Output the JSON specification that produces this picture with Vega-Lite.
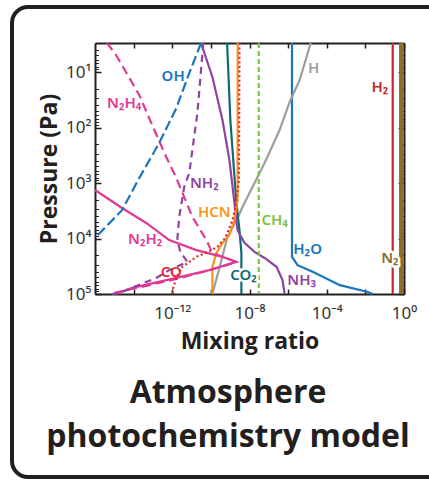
{
  "$schema": "https://vega.github.io/schema/vega-lite/v6.json",
  "width": 432,
  "height": 470,
  "autosize": "none",
  "padding": {"left": 12, "top": 7, "right": -15, "bottom": 3},
  "background": "white",
  "config": {
    "view": {"stroke": "#231f20", "strokeWidth": 4, "cornerRadius": 16, "fill": "white"},
    "axis": {"grid": false, "zindex": 1, "domainColor": "#231f20", "domainWidth": 2, "tickColor": "#231f20", "tickWidth": 1.5,
      "labelFont": "Noto Sans", "labelFontSize": 17, "labelColor": "#333333", "labelOverlap": false, "labelFlush": false, "labelBound": false,
      "titleFont": "Open Sans", "titleFontSize": 23, "titleFontWeight": "bold", "titleColor": "#231f20"}
  },
  "title": {
    "text": ["Atmosphere", "photochemistry model"],
    "orient": "bottom", "frame": "group", "anchor": "middle", "baseline": "alphabetic",
    "offset": -74, "font": "Open Sans", "fontSize": 32, "fontWeight": "bold", "color": "#231f20", "lineHeight": 44
  },
  "datasets": {
    "lines": [
      {"s":"H2O","x":1.585e-6,"p":3},{"s":"H2O","x":1.585e-6,"p":21400},{"s":"H2O","x":3.09e-6,"p":30200},{"s":"H2O","x":1.86e-5,"p":39800},{"s":"H2O","x":4.79e-4,"p":69200},{"s":"H2O","x":0.012,"p":91200},{"s":"H2O","x":0.0245,"p":100000},
      {"s":"H2","x":0.26,"p":3},{"s":"H2","x":0.26,"p":100000},
      {"s":"N2","x":0.724,"p":3},{"s":"N2","x":0.724,"p":100000},
      {"s":"CH4","x":3.02e-8,"p":3},{"s":"CH4","x":3.02e-8,"p":100000},
      {"s":"H","x":1.48e-5,"p":3},{"s":"H","x":3.98e-6,"p":13.9},{"s":"H","x":1.2e-6,"p":34.7},{"s":"H","x":3.63e-7,"p":111},{"s":"H","x":6.03e-8,"p":437},{"s":"H","x":5.5e-9,"p":2291},{"s":"H","x":2.09e-9,"p":4677},{"s":"H","x":7.24e-10,"p":9333},{"s":"H","x":3.55e-10,"p":24500},{"s":"H","x":1.2e-10,"p":100000},
      {"s":"CO2","x":6.92e-10,"p":3},{"s":"CO2","x":1.02e-9,"p":73.3},{"s":"CO2","x":2.09e-9,"p":2291},{"s":"CO2","x":3.02e-9,"p":7079},{"s":"CO2","x":3.8e-9,"p":18200},{"s":"CO2","x":3.8e-9,"p":100000},
      {"s":"NH3","x":3.09e-11,"p":3},{"s":"NH3","x":1.2e-10,"p":12.3},{"s":"NH3","x":3.98e-10,"p":73.3},{"s":"NH3","x":9.12e-10,"p":385},{"s":"NH3","x":1.66e-9,"p":2291},{"s":"NH3","x":2.4e-9,"p":7079},{"s":"NH3","x":5.5e-9,"p":12000},{"s":"NH3","x":1.82e-8,"p":17400},{"s":"NH3","x":6.03e-8,"p":22400},{"s":"NH3","x":2.51e-7,"p":32400},{"s":"NH3","x":5.13e-7,"p":56200},{"s":"NH3","x":6.61e-7,"p":100000},
      {"s":"HCN","x":2.45e-9,"p":3},{"s":"HCN","x":2.4e-9,"p":2042},{"s":"HCN","x":1.66e-9,"p":4677},{"s":"HCN","x":9.12e-10,"p":8710},{"s":"HCN","x":3.98e-10,"p":12000},{"s":"HCN","x":1.95e-10,"p":18200},{"s":"HCN","x":1.2e-10,"p":32400},{"s":"HCN","x":1.2e-10,"p":100000},
      {"s":"CO","x":3.02e-9,"p":3},{"s":"CO","x":2.85e-9,"p":891},{"s":"CO","x":1.86e-9,"p":2818},{"s":"CO","x":1.32e-9,"p":4677},{"s":"CO","x":5.62e-10,"p":9772},{"s":"CO","x":2.19e-10,"p":14100},{"s":"CO","x":8.32e-11,"p":17000},{"s":"CO","x":1.78e-11,"p":21400},{"s":"CO","x":3.31e-12,"p":32400},{"s":"CO","x":1.62e-12,"p":51300},{"s":"CO","x":1.12e-12,"p":77600},{"s":"CO","x":1e-12,"p":100000},
      {"s":"N2H2","x":1e-16,"p":1337},{"s":"N2H2","x":2.51e-15,"p":2818},{"s":"N2H2","x":4.47e-14,"p":5248},{"s":"N2H2","x":6.92e-13,"p":10700},{"s":"N2H2","x":1.78e-11,"p":16200},{"s":"N2H2","x":3.98e-10,"p":21400},{"s":"N2H2","x":2.09e-9,"p":26300},{"s":"N2H2","x":8.32e-11,"p":37200},{"s":"N2H2","x":1.62e-12,"p":51300},{"s":"N2H2","x":8.32e-15,"p":77600},{"s":"N2H2","x":1.23e-15,"p":100000},
      {"s":"N2H4","x":4.17e-16,"p":3},{"s":"N2H4","x":1.23e-15,"p":4.94},{"s":"N2H4","x":1.95e-14,"p":25.9},{"s":"N2H4","x":9.12e-14,"p":90.2},{"s":"N2H4","x":4.9e-13,"p":339},{"s":"N2H4","x":1.62e-12,"p":813},{"s":"N2H4","x":1.1e-11,"p":4074},{"s":"N2H4","x":5.89e-11,"p":10700},{"s":"N2H4","x":1.2e-10,"p":18200},{"s":"N2H4","x":2.09e-9,"p":26500},{"s":"N2H4","x":8.32e-11,"p":37500},{"s":"N2H4","x":1.62e-12,"p":53700},{"s":"N2H4","x":8.32e-15,"p":81300},{"s":"N2H4","x":5.37e-16,"p":100000},
      {"s":"NH2","x":4.07e-11,"p":3},{"s":"NH2","x":2e-11,"p":55},{"s":"NH2","x":7.59e-12,"p":661},{"s":"NH2","x":4.17e-12,"p":1175},{"s":"NH2","x":2.29e-12,"p":4074},{"s":"NH2","x":1.82e-12,"p":10700},{"s":"NH2","x":2.63e-12,"p":17400},{"s":"NH2","x":6.03e-12,"p":26300},{"s":"NH2","x":6.92e-13,"p":37200},{"s":"NH2","x":1.48e-13,"p":51300},{"s":"NH2","x":1.78e-15,"p":95500},{"s":"NH2","x":7.59e-16,"p":100000},
      {"s":"OH","x":1e-16,"p":9772},{"s":"OH","x":2.51e-15,"p":3090},{"s":"OH","x":1.95e-14,"p":813},{"s":"OH","x":2.09e-13,"p":191},{"s":"OH","x":1.62e-12,"p":44.7},{"s":"OH","x":7.59e-12,"p":10.5},{"s":"OH","x":3.09e-11,"p":3}
    ],
    "labels": [
      {"s":"OH","t":"OH","x":1.12e-12,"p":11.7},
      {"s":"N2H4","t":"N₂H₄","x":3.24e-15,"p":36.3},
      {"s":"NH2","t":"NH₂","x":4.57e-11,"p":1000},
      {"s":"HCN","t":"HCN","x":1.51e-10,"p":3311},
      {"s":"CH4","t":"CH₄","x":2.0e-7,"p":4677},
      {"s":"H","t":"H","x":2.09e-5,"p":8.5},
      {"s":"H2","t":"H₂","x":0.0562,"p":18.6},
      {"s":"H2O","t":"H₂O","x":1.02e-5,"p":15500},
      {"s":"N2","t":"N₂","x":0.186,"p":22400},
      {"s":"N2H2","t":"N₂H₂","x":3.98e-14,"p":10200},
      {"s":"CO","t":"CO","x":8.9e-13,"p":39800},
      {"s":"CO2","t":"CO₂","x":4.9e-9,"p":45700},
      {"s":"NH3","t":"NH₃","x":5.0e-6,"p":56200}
    ]
  },
  "resolve": {"axis": {"x": "independent", "y": "independent"}},
  "layer": [
    {
      "data": {"name": "lines"},
      "transform": [{"filter": {"field": "s", "oneOf": ["H2O","H2","H","CO2","NH3","HCN","N2H2"]}}],
      "mark": {"type": "line", "strokeWidth": 2.2},
      "encoding": {
        "x": {"field": "x", "type": "quantitative", "scale": {"type": "log", "domain": [1e-16, 1], "range": [83, 392], "nice": false},
          "axis": {"orient": "bottom", "offset": -183, "values": [1e-14,1e-12,1e-10,1e-8,1e-6,1e-4,1e-2,1], "tickSize": -5, "labelPadding": 16,
            "labelExpr": "round(log(datum.value)/LN10) == -12 ? '10⁻¹²' : round(log(datum.value)/LN10) == -8 ? '10⁻⁸' : round(log(datum.value)/LN10) == -4 ? '10⁻⁴' : round(log(datum.value)/LN10) == 0 ? '10⁰' : ''",
            "title": "Mixing ratio", "titlePadding": 9}},
        "y": {"field": "p", "type": "quantitative", "scale": {"type": "log", "domain": [3, 100000], "range": [36, 287], "nice": false},
          "axis": {"orient": "left", "offset": -83, "values": [10,100,1000,10000,100000], "tickSize": -6, "labelPadding": 10,
            "labelExpr": "['10⁰','10¹','10²','10³','10⁴','10⁵'][round(log(datum.value)/LN10)]",
            "title": "Pressure (Pa)", "titlePadding": 4}},
        "color": {"field": "s", "type": "nominal", "legend": null,
          "scale": {"domain": ["OH","H2O","N2H4","N2H2","NH2","NH3","HCN","CO","H2","CO2","CH4","H","N2"],
            "range": ["#1b75bc","#1b75bc","#e03a93","#e03a93","#8e44a0","#8e44a0","#f7941d","#e8262c","#c1272d","#0e6b76","#7cc242","#9d9d9d","#8a6d28"]}},
        "order": {"field": "p", "type": "quantitative"}
      }
    },
    {
      "data": {"name": "lines"},
      "transform": [{"filter": {"field": "s", "oneOf": ["OH","N2H4","NH2","CH4"]}}],
      "mark": {"type": "line", "strokeWidth": 2.2, "strokeCap": "butt"},
      "encoding": {
        "x": {"field": "x", "type": "quantitative", "scale": {"type": "log", "domain": [1e-16, 1], "range": [83, 392], "nice": false},
          "axis": {"orient": "top", "offset": -36, "values": [1e-14,1e-12,1e-10,1e-8,1e-6,1e-4,1e-2,1], "tickSize": -5, "labels": false, "title": null}},
        "y": {"field": "p", "type": "quantitative", "scale": {"type": "log", "domain": [3, 100000], "range": [36, 287], "nice": false},
          "axis": {"orient": "right", "offset": -40, "values": [10,100,1000,10000,100000], "tickSize": -6, "labels": false, "title": null}},
        "color": {"field": "s", "type": "nominal", "legend": null},
        "strokeDash": {"field": "s", "type": "nominal", "legend": null,
          "scale": {"domain": ["OH","N2H4","NH2","CH4"], "range": [[10,4],[9,5],[7,5],[5,3]]}},
        "order": {"field": "p", "type": "quantitative"}
      }
    },
    {
      "data": {"name": "lines"},
      "transform": [{"filter": {"field": "s", "equal": "CO"}}],
      "mark": {"type": "line", "strokeWidth": 2.2, "strokeDash": [2, 2.6], "strokeCap": "butt"},
      "encoding": {
        "x": {"field": "x", "type": "quantitative", "axis": null},
        "y": {"field": "p", "type": "quantitative",
          "axis": {"orient": "left", "offset": -83, "values": [4,5,6,7,8,9,20,30,40,50,60,70,80,90,200,300,400,500,600,700,800,900,2000,3000,4000,5000,6000,7000,8000,9000,20000,30000,40000,50000,60000,70000,80000,90000], "tickSize": -3.5, "tickWidth": 1, "labels": false, "domain": false, "title": null}},
        "color": {"field": "s", "type": "nominal", "legend": null},
        "order": {"field": "p", "type": "quantitative"}
      }
    },
    {
      "data": {"name": "lines"},
      "transform": [{"filter": {"field": "s", "equal": "N2"}}],
      "mark": {"type": "line", "strokeWidth": 4.5},
      "encoding": {
        "x": {"field": "x", "type": "quantitative", "axis": null},
        "y": {"field": "p", "type": "quantitative",
          "axis": {"orient": "right", "offset": -40, "values": [4,5,6,7,8,9,20,30,40,50,60,70,80,90,200,300,400,500,600,700,800,900,2000,3000,4000,5000,6000,7000,8000,9000,20000,30000,40000,50000,60000,70000,80000,90000], "tickSize": -3.5, "tickWidth": 1, "labels": false, "domain": false, "title": null}},
        "color": {"field": "s", "type": "nominal", "legend": null},
        "order": {"field": "p", "type": "quantitative"}
      }
    },
    {
      "data": {"name": "labels"},
      "transform": [{"filter": {"field": "s", "oneOf": ["CO2","N2"]}}],
      "mark": {"type": "text", "font": "Noto Sans", "fontWeight": 600, "fontSize": 15, "align": "center", "baseline": "middle", "fill": "white", "stroke": "white", "strokeWidth": 5, "strokeJoin": "round"},
      "encoding": {
        "x": {"field": "x", "type": "quantitative", "axis": null},
        "y": {"field": "p", "type": "quantitative", "axis": null},
        "text": {"field": "t"}
      }
    },
    {
      "data": {"name": "labels"},
      "mark": {"type": "text", "font": "Noto Sans", "fontWeight": 600, "fontSize": 15, "align": "center", "baseline": "middle"},
      "encoding": {
        "x": {"field": "x", "type": "quantitative", "axis": null},
        "y": {"field": "p", "type": "quantitative", "axis": null},
        "text": {"field": "t"},
        "color": {"field": "s", "type": "nominal", "legend": null}
      }
    }
  ]
}
